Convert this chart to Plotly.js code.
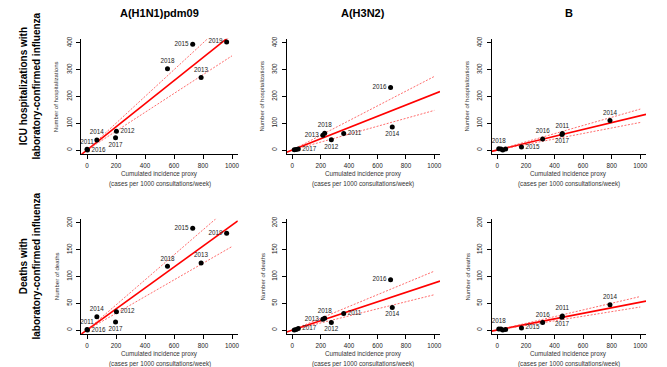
<!DOCTYPE html>
<html><head><meta charset="utf-8">
<script src="https://cdn.plot.ly/plotly-3.0.1.min.js"></script>
<style>html,body{margin:0;padding:0;background:#fff}#chart{width:667px;height:367px}</style>
</head><body><div id="chart"></div>
<script>
// ---- data ----
const years = ['2011','2012','2013','2014','2015','2016','2017','2018','2019'];
const subtypes = ['A(H1N1)pdm09','A(H3N2)','B'];
const rowTitles = ['ICU hospitalizations with<br>laboratory-confirmed influenza', 'Deaths with<br>laboratory-confirmed influenza'];
const yTitles = ['Number of hospitalizations', 'Number of deaths'];
const xTitle1 = 'Cumulated incidence proxy';
const xTitle2 = '(cases per 1000 consultations/week)';

const h1n1Incidence = [0, 203, 787, 68, 729, 3, 197, 555, 963];
const h1n1Icu       = [3, 70, 271, 37, 395, 0, 46, 304, 404];
const h1n1Deaths    = [1, 34, 125, 25, 190, 0, 15, 119, 181];

const h3n2Incidence = [362, 275, 215, 704, 14, 692, 42, 228, 27];
const h3n2Icu       = [62, 38, 55, 86, 1, 234, 4, 63, 2];
const h3n2Deaths    = [31, 14, 20, 42, 0, 94, 3, 22, 1];

const bIncidence = [455, 38, 25, 788, 169, 317, 452, 10, 58];
const bIcu       = [62, 0, 4, 110, 11, 41, 58, 5, 4];
const bDeaths    = [26, 0, 2, 47, 4, 14, 24, 2, 1];

// fitted slopes through the origin: [fit, lower CI, upper CI]
const h1n1IcuFit    = [0.432, 0.352, 0.500];
const h1n1DeathsFit = [0.196, 0.156, 0.234];
const h3n2IcuFit    = [0.210, 0.148, 0.275];
const h3n2DeathsFit = [0.088, 0.066, 0.110];
const bIcuFit       = [0.128, 0.103, 0.153];
const bDeathsFit    = [0.052, 0.043, 0.0626];

const xTicks = [0, 200, 400, 600, 800, 1000];
const icuTicks = [0, 100, 200, 300, 400];
const deathTicks = [0, 50, 100, 150, 200];

// which years get a label and where
const labelsH1N1 = [1,1,1,1,1,1,1,1,1];
const posH1N1 = ['top center','middle right','top center','top center','middle left','middle right','bottom center','top center','middle left'];
const labelsH3N2 = [1,1,1,1,0,1,1,1,0];
const posH3N2 = ['middle right','bottom center','middle left','bottom center','middle left','middle left','middle right','top center','middle left'];
const labelsB = [1,0,0,1,1,1,1,1,0];
const posB = ['top center','middle right','middle right','top center','middle right','top center','bottom center','top center','middle right'];

// ---- layout geometry ----
const W = 667, H = 367;
const px = x => x / W;
const py = y => 1 - y / H;
const colsPx = [[81.2, 237.8], [286.6, 440.0], [491.6, 646.0]];
const rowsPx = [[38.7, 154.3], [218.7, 334.3]];
const FONT = 'Liberation Sans, Arial, sans-serif';

const panels = [
  {r:0, c:0, x:h1n1Incidence, y:h1n1Icu, fit:h1n1IcuFit, lab:labelsH1N1, pos:posH1N1},
  {r:0, c:1, x:h3n2Incidence, y:h3n2Icu, fit:h3n2IcuFit, lab:labelsH3N2, pos:posH3N2},
  {r:0, c:2, x:bIncidence, y:bIcu, fit:bIcuFit, lab:labelsB, pos:posB},
  {r:1, c:0, x:h1n1Incidence, y:h1n1Deaths, fit:h1n1DeathsFit, lab:labelsH1N1, pos:posH1N1},
  {r:1, c:1, x:h3n2Incidence, y:h3n2Deaths, fit:h3n2DeathsFit, lab:labelsH3N2, pos:posH3N2},
  {r:1, c:2, x:bIncidence, y:bDeaths, fit:bDeathsFit, lab:labelsB, pos:posB}
];

const xMin = -40, xMax = 1040;
const traces = [];
const layout = {
  width: W, height: H,
  margin: {l:0, r:0, t:0, b:0},
  paper_bgcolor: '#fff', plot_bgcolor: '#fff',
  showlegend: false,
  font: {family: FONT, color: '#222'},
  annotations: []
};

panels.forEach((p, i) => {
  const n = i + 1;
  const xa = 'x' + (n === 1 ? '' : n), ya = 'y' + (n === 1 ? '' : n);
  const xKey = 'xaxis' + (n === 1 ? '' : n), yKey = 'yaxis' + (n === 1 ? '' : n);
  const yt = p.r === 0 ? icuTicks : deathTicks;
  const yTop = yt[yt.length - 1];
  const pad = yTop * 0.04;
  layout[xKey] = {
    domain: [px(colsPx[p.c][0]), px(colsPx[p.c][1])],
    anchor: ya, range: [xMin, xMax],
    tickvals: xTicks, ticktext: xTicks.map(String),
    ticks: 'outside', ticklen: 4, tickwidth: 1, tickcolor: '#000',
    showline: true, linecolor: '#000', linewidth: 1,
    showgrid: false, zeroline: false, ticklabelstandoff: 1,
    tickfont: {size: 6.3, color: '#222', family: FONT}
  };
  layout[yKey] = {
    domain: [py(rowsPx[p.r][1]), py(rowsPx[p.r][0])],
    anchor: xa, range: [-pad, yTop + pad],
    tickvals: yt, ticktext: yt.map(String), tickangle: -90,
    ticks: 'outside', ticklen: 4, tickwidth: 1, tickcolor: '#000',
    showline: true, linecolor: '#000', linewidth: 1,
    showgrid: false, zeroline: false, ticklabelstandoff: 2,
    tickfont: {size: 6.3, color: '#222', family: FONT}
  };
  // regression line (full width) and CI lines (0..1000)
  const lx = [xMin, xMax];
  traces.push({x: lx, y: lx.map(v => v * p.fit[0]), xaxis: xa, yaxis: ya, mode: 'lines',
    line: {color: '#ff0000', width: 1.6}, hoverinfo: 'skip'});
  const cx = [xTicks[0], xTicks[xTicks.length - 1]];
  [1, 2].forEach(k => traces.push({x: cx, y: cx.map(v => v * p.fit[k]), xaxis: xa, yaxis: ya, mode: 'lines',
    line: {color: 'rgba(255,60,60,0.75)', width: 1, dash: '2px,1.5px'}, hoverinfo: 'skip'}));
  traces.push({x: p.x, y: p.y, xaxis: xa, yaxis: ya, mode: 'markers+text',
    text: years.map((yr, j) => p.lab[j] ? yr : ''), textposition: p.pos,
    textfont: {size: 6.3, color: '#222', family: FONT},
    marker: {color: '#000', size: 5}, cliponaxis: false});

  const cx0 = (colsPx[p.c][0] + colsPx[p.c][1]) / 2;
  const rowMid = (rowsPx[p.r][0] + rowsPx[p.r][1]) / 2;
  // y-axis title
  layout.annotations.push({xref: 'paper', yref: 'paper', x: px(colsPx[p.c][0] - 24.5), y: py(rowMid),
    text: yTitles[p.r], textangle: -90, showarrow: false, xanchor: 'center', yanchor: 'middle',
    font: {size: 6, color: '#333', family: FONT}});
  // x-axis title (two lines)
  layout.annotations.push({xref: 'paper', yref: 'paper', x: px(cx0), y: py(rowsPx[p.r][1] + 20),
    text: xTitle1, showarrow: false, xanchor: 'center', yanchor: 'middle',
    font: {size: 6.3, color: '#333', family: FONT}});
  layout.annotations.push({xref: 'paper', yref: 'paper', x: px(cx0), y: py(rowsPx[p.r][1] + 29.5),
    text: xTitle2, showarrow: false, xanchor: 'center', yanchor: 'middle',
    font: {size: 6.3, color: '#333', family: FONT}});
});

// column titles
subtypes.forEach((s, c) => {
  layout.annotations.push({xref: 'paper', yref: 'paper', x: px((colsPx[c][0] + colsPx[c][1]) / 2), y: py(13),
    text: '<b>' + s + '</b>', showarrow: false, xanchor: 'center', yanchor: 'middle',
    font: {size: 11, color: '#000', family: FONT}});
});
// row titles
const rowTitleY = [86, 266];
rowTitles.forEach((t, r) => {
  layout.annotations.push({xref: 'paper', yref: 'paper', x: px(29.5), y: py(rowTitleY[r]),
    text: '<b>' + t + '</b>', textangle: -90, showarrow: false, xanchor: 'center', yanchor: 'middle',
    font: {size: 10, color: '#000', family: FONT}});
});

Plotly.newPlot('chart', traces, layout, {displayModeBar: false, staticPlot: true});
</script>
</body></html>
